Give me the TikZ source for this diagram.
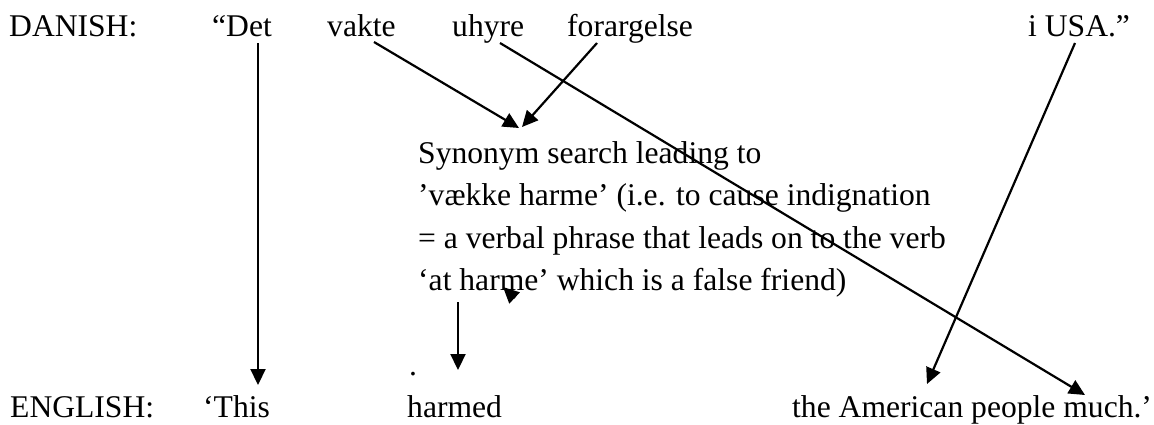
\documentclass[tikz,border=0pt]{standalone}
\usepackage{fontspec}
\setmainfont{Liberation Serif}
\usetikzlibrary{arrows.meta}
\begin{document}
\begin{tikzpicture}[x=1pt,y=-1pt,
  w/.style={anchor=base west,inner sep=0pt,font=\fontsize{31.6}{42.5}\selectfont},
  arr/.style={line width=2.2pt,-{Triangle[length=16pt,width=15pt]}}]
\useasboundingbox (0,0) rectangle (1154,424);
% Danish row
\node[w] (dan) at (9,36) {DANISH:};
\node[w] (det) at (212,36) {“Det};
\node[w] (vakte) at (327,36) {vakte};
\node[w] (uhyre) at (452,36) {uhyre};
\node[w] (forarg) at (567,36) {forargelse};
\node[w] (usa) at (1028,36) {i USA.”};
% explanation
\node[w] (p1) at (418,163) {Synonym search leading to};
\node[w] (p2) at (418,205.5) {’vække harme’ (i.e. to cause indignation};
\node[w] (p3) at (418,248) {= a verbal phrase that leads on to the verb};
\node[w] (p4) at (418,290.5) {‘at harme’ which is a false friend)};
% English row
\node[w] (eng) at (10,417) {ENGLISH:};
\node[w] (this) at (203,417) {‘This};
\node[w] (dot) at (409,375) {.};
\node[w] (harmed) at (407,417) {harmed};
\node[w] (amer) at (792,417) {the American people much.’};
% connector ends
\coordinate (detS) at (258,43);
\coordinate (thisN) at (258,385);
\coordinate (vakteS) at (374,42);
\coordinate (synA) at (519,128);
\coordinate (forargS) at (597,43);
\coordinate (synB) at (522,127);
\coordinate (uhyreS) at (500,43);
\coordinate (muchN) at (1085,395);
\coordinate (usaS) at (1075,43);
\coordinate (amerN) at (927,384);
\coordinate (shortS) at (458,302);
\coordinate (harmedN) at (458,370);
\coordinate (strayS) at (522,305);
\coordinate (strayE) at (503,287);
% connectors
\draw[arr] (detS) -- (thisN);
\draw[arr] (vakteS) -- (synA);
\draw[arr] (forargS) -- (synB);
\draw[arr] (uhyreS) -- (muchN);
\draw[arr] (usaS) -- (amerN);
\draw[arr] (shortS) -- (harmedN);
\draw[arr,shorten <=10pt] (strayS) -- (strayE);
\end{tikzpicture}
\end{document}
